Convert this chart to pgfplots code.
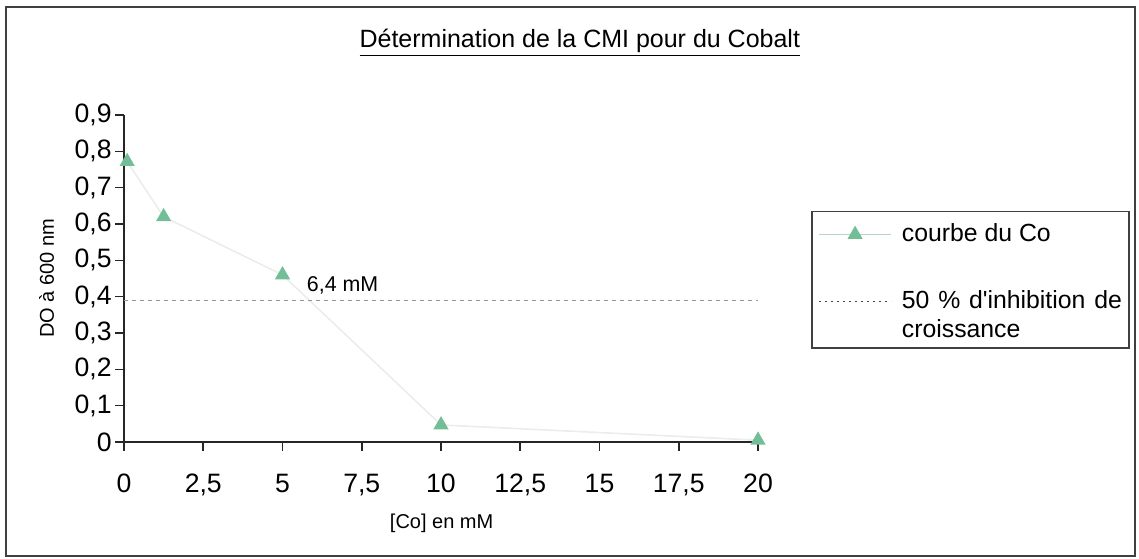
\documentclass[border=0pt]{standalone}
\usepackage{pgfplots}
\pgfplotsset{compat=1.18}
\usepackage{fontspec}
\setmainfont{Liberation Sans}
\definecolor{markC}{RGB}{115,190,150}
\definecolor{lineC}{RGB}{234,237,235}
\definecolor{legLineC}{RGB}{180,212,202}
\definecolor{dashC}{RGB}{150,150,150}
\begin{document}
\begin{tikzpicture}[x=1pt,y=1pt]
\useasboundingbox (-62,-58) rectangle (507.5,221);
\draw[black!75, line width=0.8pt] (-59,-57) rectangle (505.5,217.5);
\draw[black!75, line width=0.7pt] (343.9,115.2) rectangle (502.5,47);
\begin{axis}[
  at={(0,0)}, anchor=south west,
  scale only axis, width=317pt, height=163.5pt,
  xmin=0, xmax=20, ymin=0, ymax=0.9,
  axis lines*=left,
  axis line style={black!85, line width=0.8pt},
  xtick={0,2.5,5,7.5,10,12.5,15,17.5,20},
  ytick={0,0.1,0.2,0.3,0.4,0.5,0.6,0.7,0.8,0.9},
  tick align=outside, major tick length=4.5pt,
  tick style={black!85, line width=0.8pt},
  /pgf/number format/.cd, use comma, fixed, assume math mode=true, /pgfplots/.cd,
  tick label style={font=\fontsize{13.3}{15}\selectfont},
  yticklabel style={inner sep=1.5pt},
  xticklabel style={yshift=-8pt},
  xlabel={{[Co] en mM}},
  xlabel style={at={(axis description cs:0.501,0)}, anchor=center, yshift=-40.5pt, font=\fontsize{10}{12}\selectfont},
  ylabel={DO à 600 nm},
  ylabel style={at={(axis description cs:-0.122,0.5)}, anchor=center, font=\fontsize{10}{12}\selectfont},
  title={\underline{Détermination de la CMI pour du Cobalt}},
  title style={at={(axis description cs:0.719,1)}, anchor=center, yshift=30pt, font=\fontsize{12.5}{15}\selectfont},
  legend style={at={(axis description cs:1.085,0.7046)}, anchor=north west,
    draw=none, fill=none, font=\fontsize{12.4}{14.2}\selectfont,
    inner xsep=3pt, inner ysep=4pt, row sep=19pt, column sep=3pt},
  legend cell align=left,
]
\addplot[color=lineC, line width=0.8pt, mark=triangle*, mark size=3.6pt,
  mark options={fill=markC, draw=markC, solid},
  legend image code/.code={\draw[color=legLineC, line width=0.8pt, mark repeat=2, mark phase=2, mark=triangle*, mark size=3.6pt, mark options={fill=markC, draw=markC}] plot coordinates {(0pt,0pt) (18pt,0pt) (36pt,0pt)};}]
  coordinates {(0.1,0.772) (1.25,0.62) (5,0.46) (10,0.047) (20,0.005)};
\addlegendentry{courbe du Co}
\addplot[color=dashC, line width=0.6pt, dash pattern=on 2pt off 2pt,
  legend image code/.code={\draw[black!70, line width=0.6pt, dash pattern=on 1pt off 2pt] (0pt,0pt) -- (36pt,0pt);}]
  coordinates {(0,0.389) (20,0.389)};
\addlegendentry{\parbox[t]{110pt}{50 \% d\textquotesingle inhibition de croissance}}
\node[anchor=west, inner sep=0pt, font=\fontsize{10.7}{12}\selectfont] at (axis cs:5.76,0.432) {6,4 mM};
\end{axis}
\end{tikzpicture}
\end{document}
